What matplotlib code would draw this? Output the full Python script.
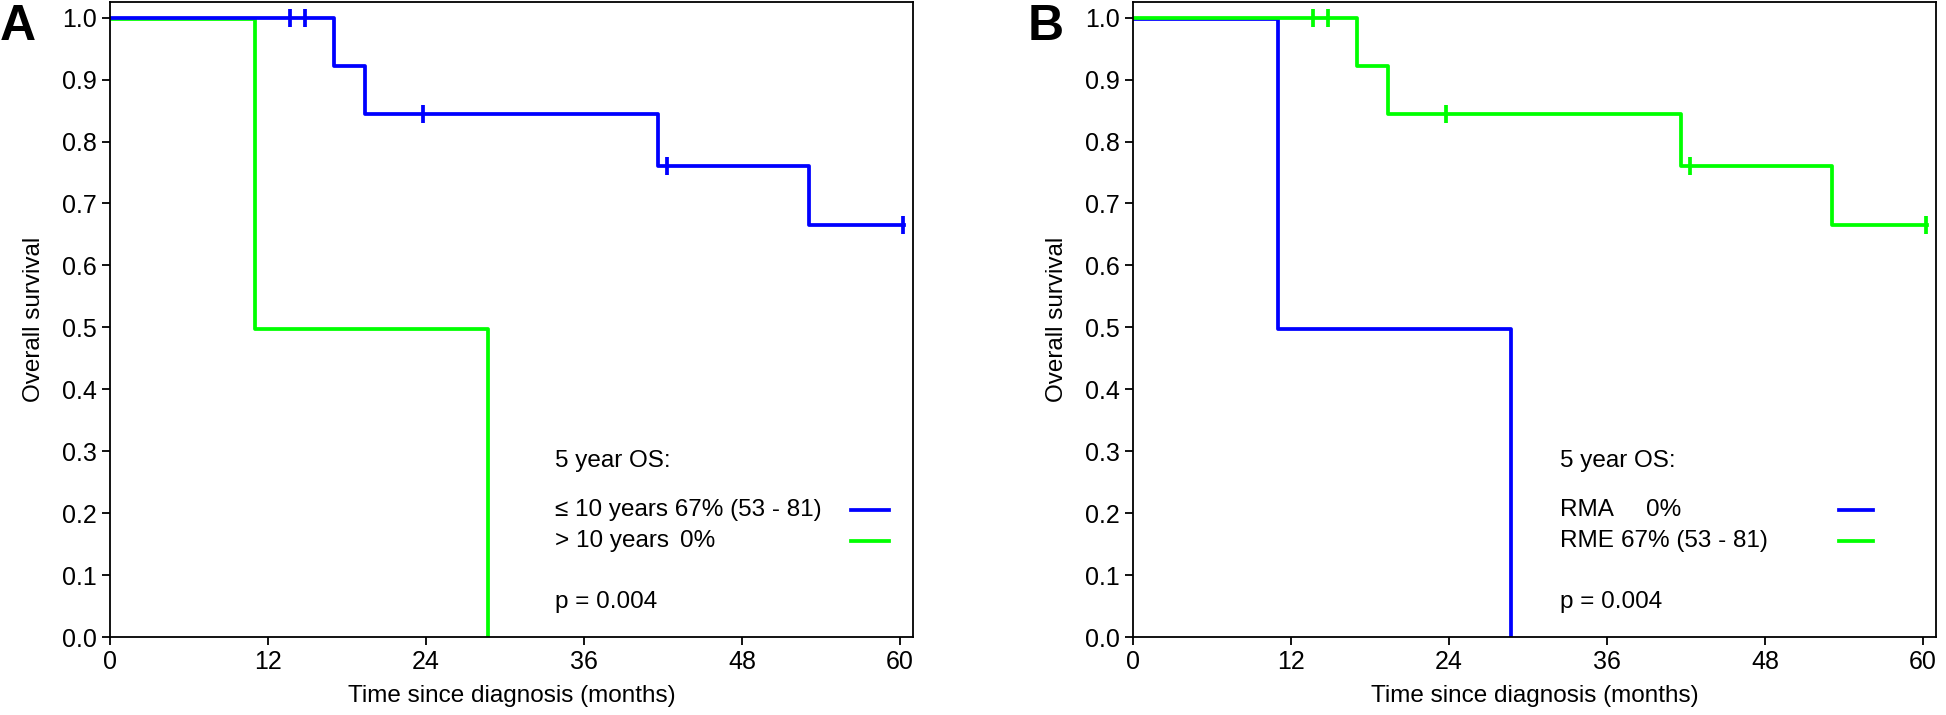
import matplotlib
matplotlib.use("Agg")
import matplotlib.pyplot as plt
import matplotlib.transforms as mtransforms

plt.rcParams['font.family'] = ['Liberation Sans', 'DejaVu Sans']

# Kaplan-Meier steps (months, survival)
long_t = [0, 17.0, 19.4, 41.6, 53.1, 60.3]
long_s = [1.0, 0.922, 0.845, 0.76, 0.665, 0.665]
long_cens_t = [13.7, 14.8, 23.8, 42.3, 60.2]
long_cens_s = [1.0, 1.0, 0.845, 0.76, 0.665]

short_t = [0, 11.0, 28.7]
short_s = [1.0, 0.5, 0.0]

BLUE = '#0000ff'
GREEN = '#00ff00'
FS = 17.5
LW = 2.7

xticks = [0, 12, 24, 36, 48, 60]
yticks = [0.0, 0.1, 0.2, 0.3, 0.4, 0.5, 0.6, 0.7, 0.8, 0.9, 1.0]

fig = plt.figure(figsize=(19.46, 7.15), dpi=100)
axA = fig.add_axes([0.0565, 0.109, 0.4127, 0.888])
axB = fig.add_axes([0.5822, 0.109, 0.4127, 0.888])


def km(ax, color_long, color_short):
    off = mtransforms.offset_copy(ax.transData, fig=fig, x=0, y=-1.5, units='dots')
    ax.step(short_t, short_s, where='post', color=color_short, lw=LW, transform=off)
    ax.step(long_t, long_s, where='post', color=color_long, lw=LW)
    ax.plot(long_cens_t, long_cens_s, ls='none', marker='|', ms=13, mew=LW,
            color=color_long)


def style(ax):
    ax.set_xlim(0, 61)
    ax.set_ylim(0, 1.025)
    ax.set_xticks(xticks)
    ax.set_yticks(yticks)
    ax.set_yticklabels([f'{v:.1f}' for v in yticks])
    ax.tick_params(labelsize=18, length=6, width=1.3)
    for s in ax.spines.values():
        s.set_linewidth(1.3)
    ax.set_xlabel('Time since diagnosis (months)', fontsize=FS, labelpad=8)
    ax.set_ylabel('Overall survival', fontsize=FS, labelpad=12)


# panel A
km(axA, BLUE, GREEN)
style(axA)
axA.text(33.8, 0.285, '5 year OS:', fontsize=FS, va='center')
axA.text(33.8, 0.205, '≤ 10 years 67% (53 - 81)', fontsize=FS, va='center')
axA.plot([56.3, 59.2], [0.205, 0.205], color=BLUE, lw=LW)
axA.text(33.8, 0.155, '> 10 years', fontsize=FS, va='center')
axA.text(43.3, 0.155, '0%', fontsize=FS, va='center')
axA.plot([56.3, 59.2], [0.155, 0.155], color=GREEN, lw=LW)
axA.text(33.8, 0.057, 'p = 0.004', fontsize=FS, va='center')

# panel B
km(axB, GREEN, BLUE)
style(axB)
axB.text(32.4, 0.285, '5 year OS:', fontsize=FS, va='center')
axB.text(32.4, 0.205, 'RMA', fontsize=FS, va='center')
axB.text(39.0, 0.205, '0%', fontsize=FS, va='center')
axB.plot([53.6, 56.2], [0.205, 0.205], color=BLUE, lw=LW)
axB.text(32.4, 0.155, 'RME', fontsize=FS, va='center')
axB.text(37.1, 0.155, '67% (53 - 81)', fontsize=FS, va='center')
axB.plot([53.6, 56.2], [0.155, 0.155], color=GREEN, lw=LW)
axB.text(32.4, 0.057, 'p = 0.004', fontsize=FS, va='center')

fig.text(0.0, 0.995, 'A', fontsize=36, fontweight='bold', va='top', ha='left')
fig.text(0.528, 0.995, 'B', fontsize=36, fontweight='bold', va='top', ha='left')

fig.savefig('out.png', dpi=100)
